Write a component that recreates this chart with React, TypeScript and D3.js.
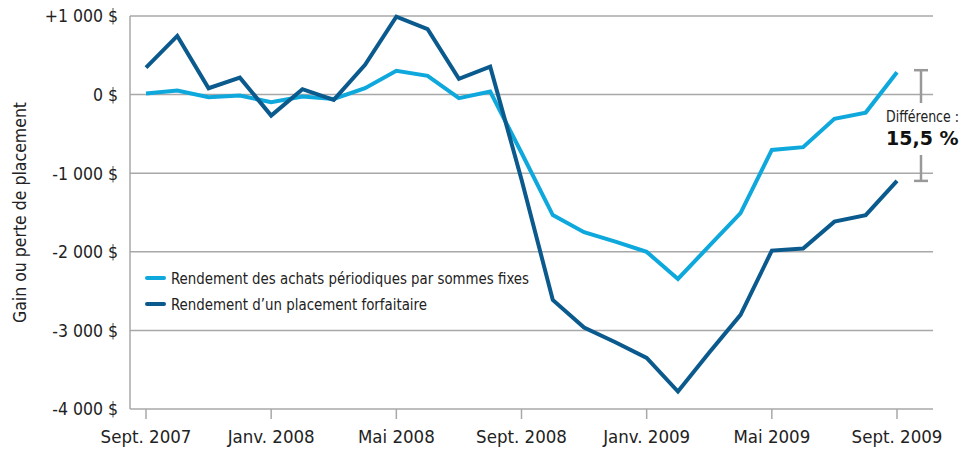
import React from "react";
import * as d3 from "d3";

// Mois de sept. 2007 à sept. 2009
const months = d3.range(25);
const tickLabels = ["Sept. 2007", "Janv. 2008", "Mai 2008", "Sept. 2008", "Janv. 2009", "Mai 2009", "Sept. 2009"];
const yTicks = [1000, 0, -1000, -2000, -3000, -4000];
const yTickLabels = ["+1 000 $", "0 $", "-1 000 $", "-2 000 $", "-3 000 $", "-4 000 $"];

// Rendement des achats périodiques par sommes fixes
const periodic = [13, 51, -33, -13, -97, -25, -55, 81, 302, 238, -46, 38, -740, -1533, -1751, -1870, -2001, -2345, -1925, -1508, -704, -669, -309, -229, 285];
// Rendement d'un placement forfaitaire
const lumpSum = [343, 747, 81, 216, -267, 69, -67, 378, 992, 832, 200, 356, -1080, -2612, -2964, -3150, -3350, -3778, -3280, -2802, -1985, -1959, -1616, -1534, -1098];

const series = [
  { name: "Rendement des achats périodiques par sommes fixes", values: periodic, color: "#0ea8dc", len: 358 },
  { name: "Rendement d\u2019un placement forfaitaire", values: lumpSum, color: "#0b5a8e", len: 256 },
];

const font = "'Liberation Sans Narrow', 'DejaVu Sans Condensed', 'Roboto', sans-serif";

const App = () => {
  const width = 974;
  const height = 449;
  const left = 130;
  const right = 933;

  const x = d3.scaleLinear().domain([0, months.length - 1]).range([146, 897]);
  const y = d3.scaleLinear().domain([-4000, 1000]).range([409, 16]);

  const line = d3
    .line<number>()
    .x((d, i) => x(i))
    .y(d => y(d));

  const grey = "#a8a8a8";
  const bx = 921;

  return (
    <svg width={width} height={height} style={{ position: "absolute", left: 0, top: 0 }}>
      <rect width={width} height={height} fill="#fff" />

      {/* grille */}
      {yTicks.map((t, i) => (
        <g key={t}>
          <line x1={left} x2={right} y1={y(t)} y2={y(t)} stroke={grey} strokeWidth={1.5} />
          <text
            x={118}
            y={y(t)}
            dy="0.36em"
            textAnchor="end"
            fontFamily={font}
            fontSize={17.5}
            fill="#222"
          >
            {yTickLabels[i]}
          </text>
        </g>
      ))}
      <line x1={left} x2={left} y1={y(1000)} y2={y(-4000)} stroke={grey} strokeWidth={1.5} />

      {/* axe des x */}
      {tickLabels.map((lab, i) => (
        <g key={lab} transform={`translate(${x(i * 4)},0)`}>
          <line y1={y(-4000)} y2={y(-4000) + 10} stroke={grey} strokeWidth={1.5} />
          <text y={443} textAnchor="middle" fontFamily={font} fontSize={18.5} fill="#222">
            {lab}
          </text>
        </g>
      ))}

      <text
        transform={`translate(26,${(y(1000) + y(-4000)) / 2}) rotate(-90)`}
        textAnchor="middle"
        fontFamily={font}
        fontSize={17.5}
        fill="#222"
      >
        Gain ou perte de placement
      </text>

      {/* courbes */}
      {series.map(s => (
        <path
          key={s.name}
          d={line(s.values) || ""}
          fill="none"
          stroke={s.color}
          strokeWidth={4}
          strokeLinejoin="miter"
        />
      ))}

      {/* légende */}
      {series.map((s, i) => (
        <g key={s.name} transform={`translate(147,${278 + i * 26})`}>
          <line x1={0} x2={17} stroke={s.color} strokeWidth={4} strokeLinecap="round" />
          <text
            x={24}
            dy="0.36em"
            fontFamily={font}
            fontSize={16.5}
            fill="#222"
            textLength={s.len}
            lengthAdjust="spacingAndGlyphs"
          >
            {s.name}
          </text>
        </g>
      ))}

      {/* écart */}
      <g stroke="#999" strokeWidth={2.5}>
        <line x1={bx - 7} x2={bx + 7} y1={y(periodic[24]) - 2} y2={y(periodic[24]) - 2} />
        <line x1={bx} x2={bx} y1={y(periodic[24]) - 2} y2={103} />
        <line x1={bx} x2={bx} y1={155} y2={y(lumpSum[24])} />
        <line x1={bx - 7} x2={bx + 7} y1={y(lumpSum[24])} y2={y(lumpSum[24])} />
      </g>
      <text x={886} y={122} fontFamily={font} fontSize={15} fill="#222" textLength={73} lengthAdjust="spacingAndGlyphs">
        Différence :
      </text>
      <text x={886} y={145} fontFamily="'DejaVu Sans', sans-serif" fontWeight="bold" fontSize={19} fill="#111">
        15,5 %
      </text>
    </svg>
  );
};

export default App;
